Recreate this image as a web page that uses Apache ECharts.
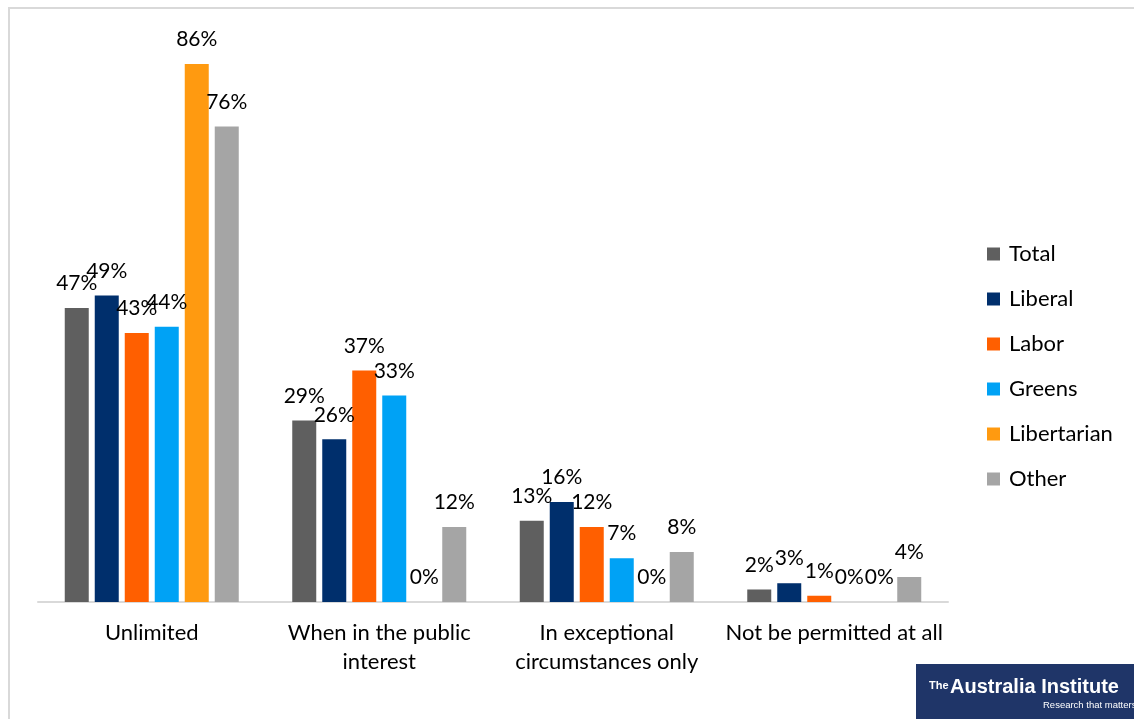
<!DOCTYPE html>
<html>
<head>
<meta charset="utf-8">
<script src="https://cdn.jsdelivr.net/npm/echarts@6/dist/echarts.min.js"></script>
<style>
html,body{margin:0;padding:0;background:#fff;}
#c{width:1134px;height:719px;}
</style>
</head>
<body>
<div id="c"></div>
<script>
const categories = ['Unlimited', 'When in the public\ninterest', 'In exceptional\ncircumstances only', 'Not be permitted at all'];
const seriesNames = ['Total', 'Liberal', 'Labor', 'Greens', 'Libertarian', 'Other'];
const total = [47, 29, 13, 2];
const liberal = [49, 26, 16, 3];
const labor = [43, 37, 12, 1];
const greens = [44, 33, 7, 0];
const libertarian = [86, 0, 0, 0];
const other = [76, 12, 8, 4];
const colors = ['#5f5f5f', '#002f6c', '#ff5f00', '#00a2f5', '#ff9a10', '#a5a5a5'];
const values = [total, liberal, labor, greens, libertarian, other];

const FONT = 'Lato, "Open Sans", sans-serif';
const chart = echarts.init(document.getElementById('c'), null, {renderer: 'canvas'});
chart.setOption({
  animation: false,
  backgroundColor: '#fff',
  color: colors,
  grid: {left: 38, right: 186, top: 39, bottom: 117},
  legend: {
    orient: 'vertical',
    left: 987,
    top: 243,
    padding: 0,
    itemWidth: 13,
    itemHeight: 13,
    itemGap: 23,
    icon: 'rect',
    data: seriesNames,
    textStyle: {fontFamily: FONT, fontSize: 22, color: '#000', lineHeight: 22, padding: [0, 0, 0, 4]}
  },
  xAxis: {
    type: 'category',
    data: categories,
    axisLine: {lineStyle: {color: '#d9d9d9', width: 2}},
    axisTick: {show: false},
    axisLabel: {fontFamily: FONT, fontSize: 22, color: '#000', lineHeight: 29, margin: 16, interval: 0}
  },
  yAxis: {
    type: 'value', min: 0, max: 90,
    show: false,
    splitLine: {show: false}
  },
  series: seriesNames.map((n, i) => ({
    name: n,
    type: 'bar',
    data: values[i],
    barWidth: 24,
    barGap: '25%',
    label: {
      show: true,
      position: 'top',
      distance: 14,
      formatter: p => p.value + '%',
      fontFamily: FONT,
      fontSize: 21,
      color: '#000'
    }
  })),
  graphic: [
    {type: 'polyline', shape: {points: [[9, 719], [9, 8], [1134, 8]]}, style: {stroke: '#d9d9d9', lineWidth: 2, fill: null}},
    {type: 'rect', shape: {x: 916, y: 664, width: 218, height: 55}, style: {fill: '#1f3568'}},
    {type: 'text', left: 929, top: 680, style: {text: 'The', fill: '#fff', font: 'bold 11px "Liberation Sans Narrow", sans-serif'}},
    {type: 'text', left: 950, top: 677, style: {text: 'Australia Institute', fill: '#fff', font: 'bold 20px "Liberation Sans Narrow", sans-serif'}},
    {type: 'text', left: 1043, top: 700, style: {text: 'Research that matters', fill: '#fff', font: '9.5px "Liberation Sans Narrow", sans-serif'}}
  ]
});
</script>
</body>
</html>
